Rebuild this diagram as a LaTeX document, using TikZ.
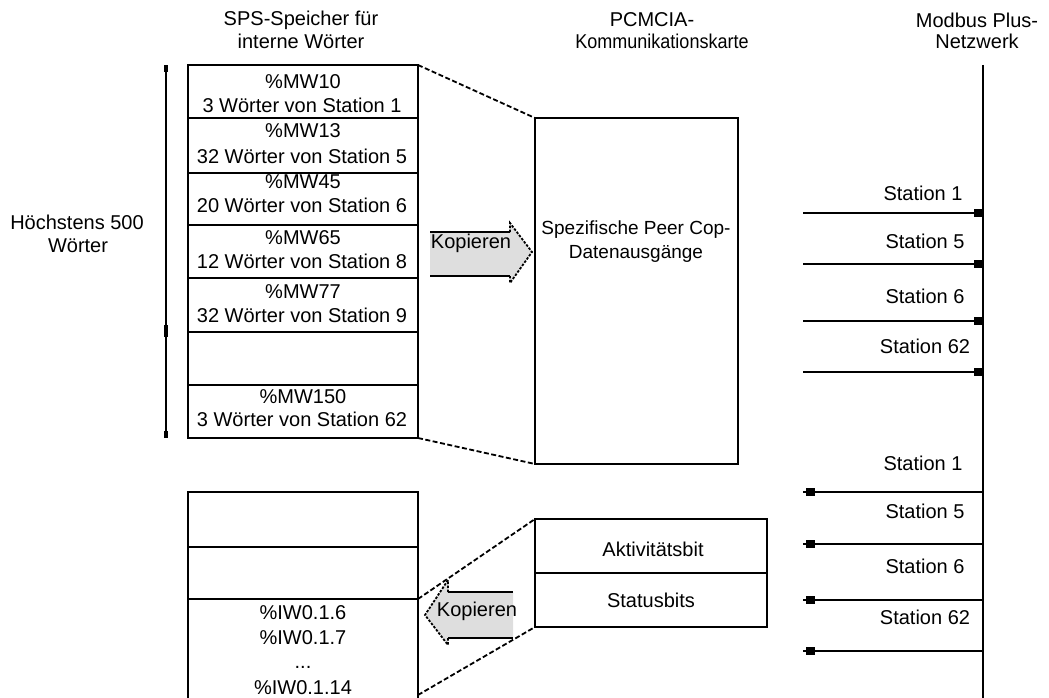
\documentclass[tikz,border=0pt]{standalone}
\usepackage{graphicx}
\usepackage{fontspec}
\setmainfont{Liberation Sans}
\begin{document}
\begin{tikzpicture}[x=1pt,y=-1pt,
  box/.style={draw, line width=2pt},
  lbl/.style={font=\fontsize{20}{23}\selectfont, inner sep=0pt, anchor=center},
  dashln/.style={line width=1.8pt, dash pattern=on 5pt off 2.5pt},
  headln/.style={line width=1.8pt, dash pattern=on 2.5pt off 1.5pt},
  stline/.style={line width=2pt},
  copyfill/.style={fill=black!13},
  marker/.style={fill=black}]
\useasboundingbox (0,0) rectangle (1049,698);

% headers
\node[lbl] (h1a) at (301,20) {SPS-Speicher für};
\node[lbl] (h1b) at (301,41) {interne Wörter};
\node[lbl] (h2a) at (652,20) {PCMCIA-};
\node[lbl] (h2b) at (662,41) {\scalebox{0.9}[1]{Kommunikationskarte}};
\node[lbl] (h3a) at (977,20) {Modbus Plus-};
\node[lbl] (h3b) at (977,41) {Netzwerk};

% left bracket
\coordinate (brT) at (166,65);
\coordinate (brB) at (166,438);
\draw[line width=1.6pt] (brT) -- (brB);
\fill (164,65) rectangle (168,72);
\fill (164,325) rectangle (168,337);
\fill (164,431) rectangle (168,438);
\node[lbl] (maxa) at (77,222) {Höchstens 500};
\node[lbl] (maxb) at (78,246) {Wörter};

% upper memory box
\draw[box] (188,65) rectangle (418,438);
\foreach \yy in {118,173,225,278,332,385} \draw[line width=2pt] (188,\yy) -- (418,\yy);
\coordinate (memTR) at (418,65);
\coordinate (memBR) at (418,438);
\node[lbl] (r1a) at (303,82) {\%MW10};
\node[lbl] (r1b) at (302,105) {3 Wörter von Station 1};
\node[lbl] (r2a) at (303,131) {\%MW13};
\node[lbl] (r2b) at (302,156) {32 Wörter von Station 5};
\node[lbl] (r3a) at (303,182) {\%MW45};
\node[lbl] (r3b) at (302,205) {20 Wörter von Station 6};
\node[lbl] (r4a) at (303,238) {\%MW65};
\node[lbl] (r4b) at (302,261) {12 Wörter von Station 8};
\node[lbl] (r5a) at (303,292) {\%MW77};
\node[lbl] (r5b) at (302,315) {32 Wörter von Station 9};
\node[lbl] (r7a) at (303,397) {\%MW150};
\node[lbl] (r7b) at (302,419) {3 Wörter von Station 62};

% PCMCIA big box
\draw[box] (535,118) rectangle (738,464);
\coordinate (pcTL) at (535,118);
\coordinate (pcBL) at (535,464);
\node[lbl, font=\fontsize{19}{22}\selectfont] (sp1) at (636,230) {Spezifische Peer Cop-};
\node[lbl, font=\fontsize{19}{22}\selectfont] (sp2) at (636,254) {Datenausgänge};
\draw[dashln] (memTR) -- (pcTL);
\draw[dashln] (memBR) -- (pcBL);

% right copy arrow
\fill[copyfill] (430,232) -- (510,232) -- (510,223) -- (532,252) -- (510,283) -- (510,276) -- (430,276) -- cycle;
\draw[line width=2pt] (430,232) -- (510,232);
\draw[line width=2pt] (430,276) -- (510,276);
\draw[headln] (510,232) -- (510,223) -- (532,252) -- (510,283) -- (510,276);
\node[lbl] (cp1) at (471,243) {Kopieren};

% lower memory box
\draw[line width=2pt] (188,698) -- (188,492) -- (418,492) -- (418,698);
\draw[line width=2pt] (188,547) -- (418,547);
\draw[line width=2pt] (188,599) -- (418,599);
\coordinate (lmA) at (418,599);
\coordinate (lmB) at (418,695);
\node[lbl] (iw1) at (303,613) {\%IW0.1.6};
\node[lbl] (iw2) at (303,638) {\%IW0.1.7};
\node[lbl, anchor=base, text height=3pt, text depth=0pt] (iw3) at (303,668) {...};
\node[lbl] (iw4) at (303,688) {\%IW0.1.14};

% small PCMCIA box
\draw[box] (535,519) rectangle (767,627);
\draw[line width=2pt] (535,573) -- (767,573);
\coordinate (sbTL) at (535,519);
\coordinate (sbBL) at (535,627);
\node[lbl] (akt) at (653,549) {Aktivitätsbit};
\node[lbl] (stb) at (651,600) {Statusbits};
\draw[dashln] (lmA) -- (sbTL);
\draw[dashln] (lmB) -- (sbBL);

% left copy arrow
\fill[copyfill] (513,592) -- (448,592) -- (448,580) -- (425,615) -- (448,645) -- (448,638) -- (513,638) -- cycle;
\draw[line width=2pt] (448,592) -- (513,592);
\draw[line width=2pt] (448,638) -- (513,638);
\draw[headln] (448,592) -- (448,580) -- (425,615) -- (448,645) -- (448,638);
\node[lbl] (cp2) at (477,611) {Kopieren};

% Modbus bus
\coordinate (busT) at (983,65);
\coordinate (busB) at (983,698);
\draw[line width=2pt] (busT) -- (busB);

% output stations (upper)
\foreach \yy/\nm/\ly/\lx in {213/Station 1/193/923, 264/Station 5/241/925, 321/Station 6/296/925, 372/Station 62/346/925}{
  \draw[stline] (803,\yy) -- (983,\yy);
  \fill[marker] (974,\yy-4) rectangle (982,\yy+4);
  \node[lbl] at (\lx,\ly) {\nm};
}
% input stations (lower)
\foreach \yy/\nm/\ly/\lx in {492/Station 1/463/923, 544/Station 5/511/925, 600/Station 6/566/925, 651/Station 62/617/925}{
  \draw[stline] (803,\yy) -- (983,\yy);
  \fill[marker] (806,\yy-4) rectangle (815,\yy+4);
  \node[lbl] at (\lx,\ly) {\nm};
}
\end{tikzpicture}
\end{document}
